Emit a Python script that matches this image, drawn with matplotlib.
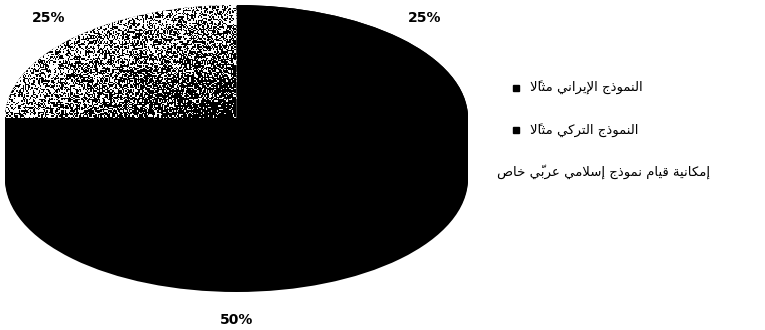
import matplotlib
matplotlib.use("Agg")
import matplotlib.pyplot as plt
import numpy as np

# data
labels = ["النموذج الإيراني مثالاً", "النموذج التركي مثالاً",
          "إمكانية قيام نموذج إسلامي عربيّ خاص"]
values = [25, 50, 25]
pct_labels = ["25%", "50%", "25%"]
colors = ["black", "black", "white"]   # third slice is drawn with a speckle texture

# matplotlib does no arabic shaping / bidi, so map letters to presentation forms
# (isolated, final, initial, medial); right-joining letters only have two forms
FORMS = {
    'ا': ('\ufe8d', '\ufe8e'), 'إ': ('\ufe87', '\ufe88'), 'أ': ('\ufe83', '\ufe84'),
    'ب': ('\ufe8f', '\ufe90', '\ufe91', '\ufe92'), 'ة': ('\ufe93', '\ufe94'),
    'ت': ('\ufe95', '\ufe96', '\ufe97', '\ufe98'), 'ث': ('\ufe99', '\ufe9a', '\ufe9b', '\ufe9c'),
    'ج': ('\ufe9d', '\ufe9e', '\ufe9f', '\ufea0'), 'خ': ('\ufea5', '\ufea6', '\ufea7', '\ufea8'),
    'ذ': ('\ufeab', '\ufeac'), 'ر': ('\ufead', '\ufeae'),
    'س': ('\ufeb1', '\ufeb2', '\ufeb3', '\ufeb4'), 'ص': ('\ufeb9', '\ufeba', '\ufebb', '\ufebc'),
    'ع': ('\ufec9', '\ufeca', '\ufecb', '\ufecc'), 'ق': ('\ufed5', '\ufed6', '\ufed7', '\ufed8'),
    'ك': ('\ufed9', '\ufeda', '\ufedb', '\ufedc'), 'ل': ('\ufedd', '\ufede', '\ufedf', '\ufee0'),
    'م': ('\ufee1', '\ufee2', '\ufee3', '\ufee4'), 'ن': ('\ufee5', '\ufee6', '\ufee7', '\ufee8'),
    'و': ('\ufeed', '\ufeee'), 'ي': ('\ufef1', '\ufef2', '\ufef3', '\ufef4'),
}
LAM_ALEF = {'ا': ('\ufefb', '\ufefc'), 'إ': ('\ufef9', '\ufefa'), 'أ': ('\ufef7', '\ufef8')}
MARKS = set(chr(c) for c in range(0x064B, 0x0653))


def forms_of(b):
    if b in FORMS:
        return FORMS[b]
    if len(b) == 2:
        return LAM_ALEF[b[1]]
    return None


def shape(text):
    clusters = []
    for ch in text:
        if ch in MARKS and clusters:
            clusters[-1][1] += ch
        else:
            clusters.append([ch, ''])
    merged = []
    for base, marks in clusters:
        if merged and merged[-1][0] == 'ل' and not merged[-1][1] and base in LAM_ALEF:
            merged[-1] = ['ل' + base, marks]
        else:
            merged.append([base, marks])
    out = []
    for i, (b, m) in enumerate(merged):
        f = forms_of(b)
        if f is None:
            out.append(b + m)
            continue
        prev = forms_of(merged[i - 1][0]) if i > 0 else None
        nxt = forms_of(merged[i + 1][0]) if i + 1 < len(merged) else None
        join_prev = prev is not None and len(prev) == 4
        join_next = len(f) == 4 and nxt is not None
        if join_prev and join_next:
            g = f[3]
        elif join_prev:
            g = f[1]
        elif join_next:
            g = f[2]
        else:
            g = f[0]
        out.append(g + m)
    return ''.join(reversed(out))


plt.rcParams['font.family'] = ['DejaVu Sans']

fig = plt.figure(figsize=(7.65, 3.3), dpi=100)
ax = fig.add_axes([5 / 765, 38 / 330, 463 / 765, 287 / 330])

# 3d depth of the pie, as fraction of the vertical radius
depth = 0.54
for d in np.linspace(depth, 0, 40):
    ax.pie(values, startangle=90, counterclock=False, colors=['black'] * len(values),
           center=(0, -d), wedgeprops=dict(linewidth=0))
top, _ = ax.pie(values, startangle=90, counterclock=False, colors=colors,
                wedgeprops=dict(linewidth=0))

# speckle texture for the third slice, darker towards the centre
rng = np.random.default_rng(7)
ny, nx = 90, 185
yy, xx = np.mgrid[1:0:ny * 1j, -1:0:nx * 1j]
rr = np.hypot(xx, yy)
p = np.clip(0.92 - 0.55 * rr, 0, 1)
tex = (rng.random((ny, nx)) < p).astype(float)
im = ax.imshow(1 - tex, cmap='gray', vmin=0, vmax=1, extent=(-1, 0, 0, 1),
               aspect='auto', interpolation='nearest', zorder=3)
im.set_clip_path(top[2])

ax.set_xlim(-1, 1)
ax.set_ylim(-1 - depth, 1)
ax.set_aspect('auto')
ax.axis('off')

# percentage labels outside each slice
mids = 90 - 360 * (np.cumsum(values) - np.array(values) / 2) / sum(values)
for a, t in zip(mids, pct_labels):
    x = 1.15 * np.cos(np.radians(a))
    y = 1.25 * np.sin(np.radians(a))
    if y < -1e-9:
        y -= depth
    ax.text(x, y, t, ha='center', va='center', fontsize=10, fontweight='bold')

# legend, drawn in pixel coordinates
lax = fig.add_axes([0, 0, 1, 1])
lax.set_xlim(0, 765)
lax.set_ylim(330, 0)
lax.axis('off')
text_x = [530, 530, 497]
for i, (lab, c) in enumerate(zip(labels, colors)):
    y = 88 + 42 * i
    lax.plot(516, y, marker='s', ms=4.5, color=c, linestyle='none')
    lax.text(text_x[i], y, shape(lab), ha='left', va='center', fontsize=9.5)

fig.savefig('out.png', dpi=100)
